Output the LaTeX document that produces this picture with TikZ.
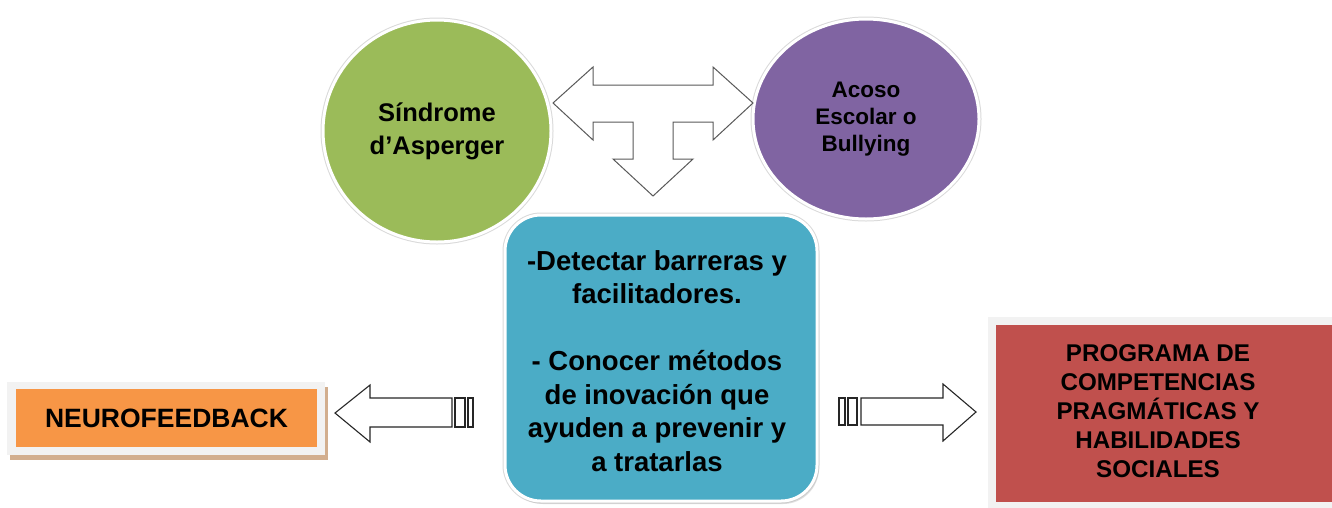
\documentclass[tikz,border=0pt]{standalone}
\usepackage{fontspec}
\setmainfont{Liberation Sans}
\usetikzlibrary{shapes.geometric,shadows}
\definecolor{cgreen}{HTML}{9BBB59}
\definecolor{cpurple}{HTML}{8064A2}
\definecolor{cblue}{HTML}{4BACC6}
\definecolor{corange}{HTML}{F79646}
\definecolor{cred}{HTML}{C0504D}
\definecolor{cframe}{HTML}{F2F2F2}
\definecolor{ctan}{HTML}{D2AE8E}
\definecolor{crim}{HTML}{D9D9D9}
\tikzset{
  rimmed/.style={draw=white, line width=3pt, preaction={draw=crim, line width=5pt}},
  bubble/.style={ellipse, rimmed, inner sep=0pt, align=center, font=\bfseries},
  blockarrow/.style={draw=black!85, line width=1.1pt, fill=white, line join=miter},
  tarrow/.style={draw=black!65, line width=1pt, fill=white, line join=miter},
}
\begin{document}
\begin{tikzpicture}[x=1pt,y=-1pt]
\useasboundingbox (0,0) rectangle (1332,507);
\clip (0,0) rectangle (1332,507);

% ellipses
\node[bubble, fill=cgreen, minimum width=228pt, minimum height=222pt,
      font=\bfseries\fontsize{25.5}{33}\selectfont] (sindrome) at (437,131)
      {Síndrome\\d’Asperger};
\node[bubble, fill=cpurple, minimum width=226pt, minimum height=200pt,
      font=\bfseries\fontsize{22.5}{27}\selectfont] (acoso) at (866,119)
      {Acoso\\Escolar o\\Bullying};

% T-shaped arrow
\draw[tarrow] (553,103) -- (593,67) -- (593,85) -- (713,85) -- (713,67) -- (753,103)
  -- (713,140) -- (713,122) -- (673,122) -- (673,159) -- (693,159) -- (653,196)
  -- (613,159) -- (633,159) -- (633,122) -- (593,122) -- (593,140) -- cycle;

% central box
\node[rectangle, rounded corners=36pt, rimmed, fill=cblue,
      drop shadow={shadow xshift=2pt, shadow yshift=-3pt, fill=black!25},
      minimum width=312pt, minimum height=286pt] (centro) at (661,358) {};
\node[align=center, font=\bfseries\fontsize{27.5}{33.5}\selectfont, inner sep=0pt]
  (centrotxt) at (657,361)
  {-Detectar barreras y\\facilitadores.\\[33.5pt]- Conocer métodos\\de inovación que\\ayuden a prevenir y\\a tratarlas};

% neurofeedback box
\fill[ctan] (10,387) rectangle (328,460);
\fill[cframe] (7,382) rectangle (325,455);
\node[rectangle, fill=corange, minimum width=301pt, minimum height=58pt, inner sep=0pt,
      font=\bfseries\fontsize{26.5}{30}\selectfont] (neuro) at (166.5,418) {NEUROFEEDBACK};

% programa box
\fill[cframe] (988,317) rectangle (1340,512);
\fill[cred] (996,325) rectangle (1340,502);
\node[align=center, inner sep=0pt, font=\bfseries\fontsize{24.2}{29}\selectfont]
  (programa) at (1158,411)
  {PROGRAMA DE\\COMPETENCIAS\\PRAGMÁTICAS Y\\HABILIDADES\\SOCIALES};

% left striped arrow
\draw[blockarrow] (335,413) -- (370,385) -- (370,398) -- (452,398) -- (452,427)
  -- (370,427) -- (370,442) -- cycle;
\draw[blockarrow] (455,398) rectangle (465,427);
\draw[blockarrow] (468,398) rectangle (473,427);

% right striped arrow
\draw[blockarrow] (976,412) -- (943,384) -- (943,398) -- (861,398) -- (861,425)
  -- (943,425) -- (943,441) -- cycle;
\draw[blockarrow] (848,398) rectangle (857,425);
\draw[blockarrow] (839,398) rectangle (845,425);
\end{tikzpicture}
\end{document}
